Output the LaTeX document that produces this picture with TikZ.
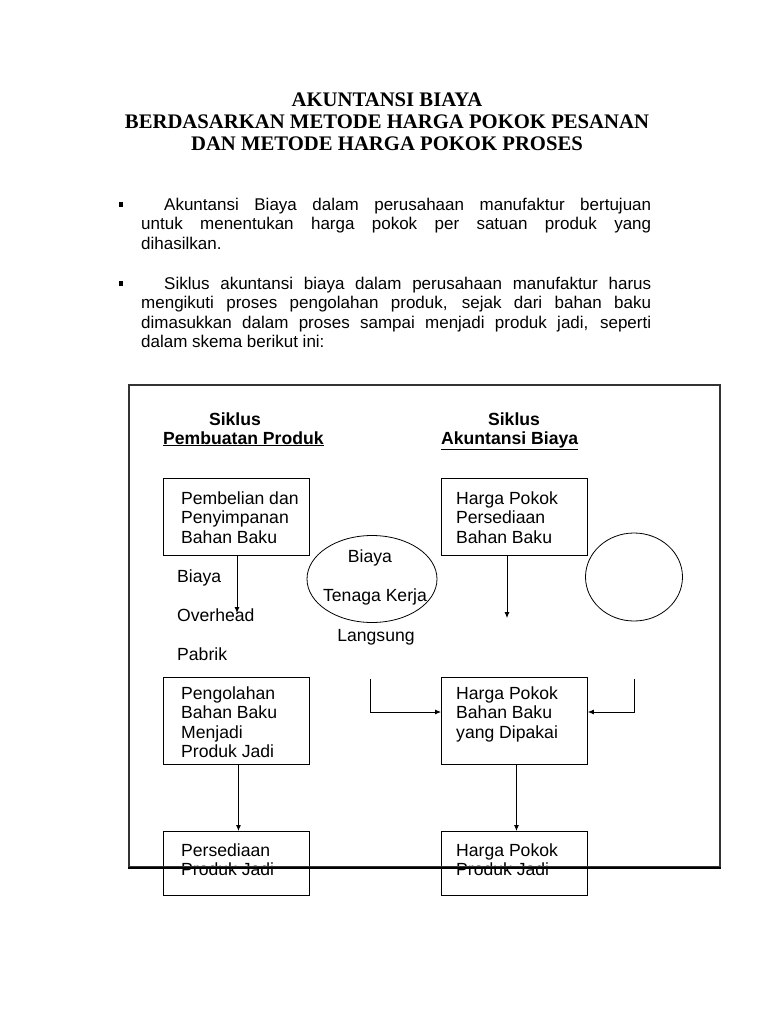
\documentclass[tikz,border=0pt]{standalone}
\usepackage{fontspec}
\setmainfont{Liberation Sans}
\newfontfamily\tnr{Liberation Serif}
\usetikzlibrary{shapes.geometric,arrows.meta}
\begin{document}
\begin{tikzpicture}[x=1pt,y=-1pt,
  dfont/.style={font=\fontsize{17.6}{19.6}\selectfont},
  dtxt/.style={dfont, align=left, anchor=north west, inner sep=0pt},
  dline/.style={dfont, anchor=base, inner sep=0pt},
  dhead/.style={font=\bfseries\fontsize{17.6}{19.6}\selectfont, inner sep=0pt},
  btxt/.style={font=\fontsize{17}{19.5}\selectfont, inner sep=0pt, text width=510pt, align=justify, anchor=north west},
  ttl/.style={font=\tnr\bfseries\fontsize{20.7}{22}\selectfont, anchor=base, inner sep=0pt},
  bullet/.style={fill=black, minimum width=4pt, minimum height=5pt, inner sep=0pt},
  box/.style={draw, line width=0.9pt, anchor=north west, inner sep=0pt, minimum width=146pt},
  oval/.style={draw, ellipse, line width=0.8pt, inner sep=0pt},
  arr/.style={line width=0.8pt, -{Latex[length=6pt,width=5pt]}}]
\useasboundingbox[fill=white] (0,0) rectangle (768,1024);

% title
\node[ttl] (t1) at (387,107) {AKUNTANSI BIAYA};
\node[ttl] (t2) at (387,129) {BERDASARKAN METODE HARGA POKOK PESANAN};
\node[ttl] (t3) at (387,151) {DAN METODE HARGA POKOK PROSES};

% bullets and paragraphs
\node[bullet] (bu1) at (121,205) {};
\node[btxt] (p1) at (141,197.6) {\hspace*{23pt}Akuntansi Biaya dalam perusahaan manufaktur bertujuan\linebreak untuk menentukan harga pokok per satuan produk yang\linebreak dihasilkan.};
\node[bullet] (bu2) at (121,283) {};
\node[btxt] (p2) at (141,276.6) {\hspace*{23pt}Siklus akuntansi biaya dalam perusahaan manufaktur harus\linebreak mengikuti proses pengolahan produk, sejak dari bahan baku\linebreak dimasukkan dalam proses sampai menjadi produk jadi, seperti\linebreak dalam skema berikut ini:};

% headings
\node[dhead, anchor=base] (s1) at (235,425) {Siklus};
\node[dhead, anchor=base west] (h1) at (163,444) {\underline{Pembuatan Produk}};
\node[dhead, anchor=base] (s2) at (514,425) {Siklus};
\node[dhead, anchor=base west] (h2) at (441,444) {\underline{Akuntansi Biaya}};

% boxes
\node[box, minimum height=77pt] (b1) at (163,478) {};
\node[dtxt] (b1t) at (181,491.2) {Pembelian dan\\Penyimpanan\\Bahan Baku};
\node[box, minimum height=77pt] (b2) at (441,478) {};
\node[dtxt] (b2t) at (456,491.2) {Harga Pokok\\Persediaan\\Bahan Baku};
\node[box, minimum height=87pt] (b3) at (163,677) {};
\node[dtxt] (b3t) at (181,686.2) {Pengolahan\\Bahan Baku\\Menjadi\\Produk Jadi};
\node[box, minimum height=87pt] (b4) at (441,677) {};
\node[dtxt] (b4t) at (456,686.2) {Harga Pokok\\Bahan Baku\\yang Dipakai};
\node[box, minimum height=64pt] (b5) at (163,831) {};
\node[dtxt] (b5t) at (181,843.2) {Persediaan\\Produk Jadi};
\node[box, minimum height=64pt] (b6) at (441,831) {};
\node[dtxt] (b6t) at (456,843.2) {Harga Pokok\\Produk Jadi};

% ovals
\node[oval, minimum width=130pt, minimum height=87pt] (el) at (372,579) {};
\node[dline] (e1) at (370,562) {Biaya};
\node[dline] (e2) at (375,601) {Tenaga Kerja};
\node[dline] (e3) at (376,641) {Langsung};
\node[oval, minimum width=97pt, minimum height=88pt] (ci) at (634,577) {};

% overhead labels
\node[dfont, anchor=base west, inner sep=0pt] (o1) at (177,582) {Biaya};
\node[dfont, anchor=base west, inner sep=0pt] (o2) at (177,621) {Overhead};
\node[dfont, anchor=base west, inner sep=0pt] (o3) at (177,660) {Pabrik};

% connectors
\coordinate (a1) at (237,613);
\coordinate (a2) at (507,618);
\draw[arr] (b1.south -| a1) -- (a1);
\draw[arr] (b2.south -| a2) -- (a2);
\coordinate (la) at (370,679);
\coordinate (lb) at (634,679);
\coordinate (ly) at (0,712);
\draw[arr] (la) |- (b4.west |- ly);
\draw[arr] (lb) |- (b4.east |- ly);
\draw[arr] ([xshift=2pt]b3.south) -- ([xshift=2pt]b5.north);
\draw[arr] ([xshift=2pt]b4.south) -- ([xshift=2pt]b6.north);

% frame
\node[draw=black!80, line width=1.8pt, anchor=north west, minimum width=591pt, minimum height=482pt, inner sep=0pt] (frame) at (128,384) {};
\draw[line width=2.6pt] (frame.south west) -- (frame.south east);
\end{tikzpicture}
\end{document}
